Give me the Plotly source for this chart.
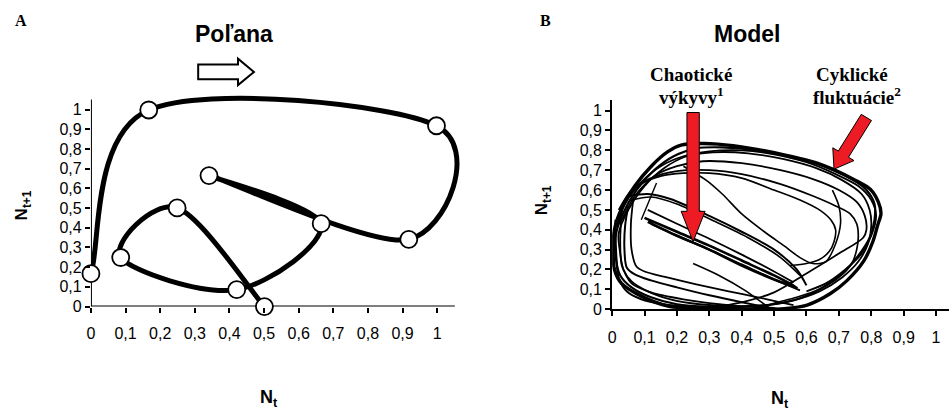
import plotly.graph_objects as go

# ---------------- data ----------------
# Poľana: observed population series (relative abundance), plotted as N_t vs N_t+1
polana_series = [0.0, 0.167, 0.998, 0.918, 0.341, 0.665, 0.421, 0.086, 0.249, 0.501, 0.0]
polana_nt = polana_series[:-1]
polana_nt1 = polana_series[1:]

tick_values = [0, 0.1, 0.2, 0.3, 0.4, 0.5, 0.6, 0.7, 0.8, 0.9, 1.0]
tick_labels = ["0", "0,1", "0,2", "0,3", "0,4", "0,5", "0,6", "0,7", "0,8", "0,9", "1"]

# Model: phase-space trajectory strands (N_t, N_t+1)
model_outer_x = [0.003, 0.008, 0.029, 0.07, 0.121, 0.172, 0.213, 0.274, 0.326, 0.428, 0.531, 0.633,
                 0.684, 0.746, 0.797, 0.822, 0.83, 0.82, 0.805, 0.777, 0.725, 0.674, 0.602, 0.531,
                 0.43, 0.326, 0.223, 0.172, 0.09, 0.029, 0.008, 0.003]
model_outer_y = [0.293, 0.407, 0.506, 0.62, 0.72, 0.793, 0.826, 0.834, 0.831, 0.81, 0.777, 0.736,
                 0.703, 0.653, 0.604, 0.539, 0.481, 0.424, 0.341, 0.243, 0.144, 0.079, 0.021, 0.003,
                 0.0, 0.0, 0.007, 0.016, 0.066, 0.13, 0.195, 0.293]

model_cycle2_x = [0.01, 0.03, 0.075, 0.13, 0.19, 0.26, 0.34, 0.45, 0.56, 0.66, 0.74, 0.785, 0.81, 0.81,
                  0.795, 0.76, 0.71, 0.65, 0.58, 0.5, 0.4, 0.3, 0.2, 0.12, 0.06, 0.025, 0.012, 0.01]
model_cycle2_y = [0.36, 0.47, 0.6, 0.7, 0.77, 0.81, 0.815, 0.8, 0.765, 0.715, 0.655, 0.6, 0.53, 0.45,
                  0.36, 0.27, 0.18, 0.11, 0.055, 0.025, 0.012, 0.012, 0.025, 0.06, 0.11, 0.17, 0.25, 0.36]

model_cycle3_x = [0.02, 0.05, 0.1, 0.16, 0.23, 0.31, 0.42, 0.53, 0.63, 0.71, 0.77, 0.795, 0.8, 0.79,
                  0.76, 0.71, 0.64, 0.56, 0.47, 0.37, 0.27, 0.18, 0.11, 0.06, 0.035, 0.025, 0.02]
model_cycle3_y = [0.38, 0.5, 0.62, 0.71, 0.77, 0.79, 0.785, 0.755, 0.71, 0.65, 0.58, 0.5, 0.42, 0.33,
                  0.24, 0.16, 0.09, 0.045, 0.02, 0.015, 0.025, 0.05, 0.09, 0.14, 0.2, 0.28, 0.38]

model_cycle4_x = [0.03, 0.07, 0.13, 0.2, 0.28, 0.4, 0.52, 0.62, 0.7, 0.755, 0.78, 0.785, 0.775,
                  0.7, 0.6, 0.5, 0.4, 0.3, 0.2]
model_cycle4_y = [0.45, 0.57, 0.67, 0.72, 0.745, 0.735, 0.7, 0.655, 0.6, 0.54, 0.47, 0.4, 0.36,
                  0.28, 0.18, 0.085, 0.035, 0.01, 0.0]

model_cycle5_x = [0.02, 0.06, 0.12, 0.2, 0.3, 0.4, 0.52, 0.62, 0.69, 0.735, 0.755, 0.76, 0.755, 0.74,
                  0.7, 0.64, 0.57, 0.5, 0.44]
model_cycle5_y = [0.5, 0.6, 0.66, 0.695, 0.7, 0.68, 0.63, 0.57, 0.52, 0.48, 0.43, 0.37, 0.3, 0.23,
                  0.16, 0.1, 0.06, 0.03, 0.0]

model_cycle6_x = [0.04, 0.09, 0.15, 0.22, 0.3, 0.4, 0.5, 0.58, 0.64, 0.675, 0.69, 0.685, 0.67, 0.64,
                  0.6, 0.55]
model_cycle6_y = [0.55, 0.63, 0.67, 0.685, 0.685, 0.66, 0.6, 0.55, 0.5, 0.45, 0.4, 0.34, 0.29, 0.25,
                  0.23, 0.22]

model_cycle7_x = [0.015, 0.04, 0.09, 0.15, 0.22, 0.3, 0.4, 0.5, 0.6, 0.69, 0.76, 0.8, 0.815, 0.8,
                  0.77, 0.72, 0.66, 0.6]
model_cycle7_y = [0.42, 0.53, 0.64, 0.72, 0.77, 0.795, 0.8, 0.78, 0.74, 0.68, 0.62, 0.55, 0.47, 0.37,
                  0.28, 0.2, 0.13, 0.09]

model_drop_x = [0.22, 0.29, 0.34, 0.4, 0.47, 0.53, 0.58, 0.62, 0.66, 0.69, 0.705, 0.7, 0.68]
model_drop_y = [0.72, 0.65, 0.58, 0.48, 0.39, 0.32, 0.26, 0.23, 0.24, 0.33, 0.43, 0.52, 0.6]

model_low1_x = [0.05, 0.04, 0.038, 0.045, 0.07, 0.12, 0.2, 0.3, 0.4, 0.48, 0.52]
model_low1_y = [0.52, 0.42, 0.3, 0.21, 0.175, 0.145, 0.11, 0.07, 0.035, 0.01, 0.0]

model_low2_x = [0.065, 0.058, 0.06, 0.075, 0.1, 0.17, 0.26, 0.36, 0.45, 0.52, 0.56]
model_low2_y = [0.55, 0.43, 0.3, 0.215, 0.19, 0.16, 0.125, 0.09, 0.06, 0.035, 0.02]

model_low3_x = [0.01, 0.012, 0.02, 0.045, 0.09, 0.16, 0.25, 0.35, 0.45]
model_low3_y = [0.45, 0.3, 0.16, 0.09, 0.05, 0.025, 0.01, 0.0, 0.0]

model_low4_x = [0.03, 0.025, 0.03, 0.06, 0.12, 0.22, 0.33, 0.44, 0.52]
model_low4_y = [0.5, 0.35, 0.22, 0.13, 0.085, 0.05, 0.025, 0.01, 0.0]

model_diag1_x = [0.1, 0.2, 0.3, 0.4, 0.5, 0.57, 0.5, 0.4, 0.3, 0.2, 0.11]
model_diag1_y = [0.46, 0.39, 0.32, 0.245, 0.17, 0.11, 0.15, 0.22, 0.3, 0.37, 0.44]

model_diag2_x = [0.11, 0.2, 0.3, 0.4, 0.5, 0.56]
model_diag2_y = [0.5, 0.43, 0.355, 0.275, 0.19, 0.135]

model_diag3_x = [0.05, 0.11, 0.18, 0.3, 0.4, 0.5, 0.57, 0.6]
model_diag3_y = [0.57, 0.58, 0.555, 0.47, 0.39, 0.3, 0.2, 0.12]

model_diag4_x = [0.12, 0.2, 0.3, 0.4, 0.5, 0.58]
model_diag4_y = [0.43, 0.37, 0.3, 0.225, 0.15, 0.095]

model_diag5_x = [0.06, 0.12, 0.2, 0.32, 0.42, 0.52, 0.58]
model_diag5_y = [0.55, 0.565, 0.53, 0.44, 0.36, 0.26, 0.17]

model_spike_x = [0.09, 0.137]
model_spike_y = [0.45, 0.635]

model_cross_x = [0.25, 0.33, 0.41, 0.49]
model_cross_y = [0.23, 0.17, 0.095, 0.0]

model_strands = [
    (model_outer_x, model_outer_y, 3.4),
    (model_cycle2_x, model_cycle2_y, 2.2),
    (model_cycle3_x, model_cycle3_y, 1.8),
    (model_cycle7_x, model_cycle7_y, 1.8),
    (model_cycle4_x, model_cycle4_y, 1.8),
    (model_cycle5_x, model_cycle5_y, 1.7),
    (model_cycle6_x, model_cycle6_y, 1.6),
    (model_drop_x, model_drop_y, 1.6),
    (model_low1_x, model_low1_y, 2.0),
    (model_low2_x, model_low2_y, 1.8),
    (model_low3_x, model_low3_y, 2.0),
    (model_low4_x, model_low4_y, 1.8),
    (model_diag1_x, model_diag1_y, 2.6),
    (model_diag2_x, model_diag2_y, 1.8),
    (model_diag3_x, model_diag3_y, 2.0),
    (model_diag4_x, model_diag4_y, 2.0),
    (model_diag5_x, model_diag5_y, 1.6),
    (model_spike_x, model_spike_y, 1.4),
    (model_cross_x, model_cross_y, 1.6),
]

# ---------------- layout geometry ----------------
W, H = 951, 419
LEFT_SCALE_X, LEFT_SCALE_Y = 347.7, 201.3      # px per unit
LEFT_PX_X = (87.3, 478.0)
LEFT_PX_Y = (313.3, 88.0)
LEFT_AXIS_END = 1.051                          # visible axis lines stop here
LEFT_RANGE_X = (0, (LEFT_PX_X[1] - LEFT_PX_X[0]) / LEFT_SCALE_X)
LEFT_RANGE_Y = (0, (LEFT_PX_Y[0] - LEFT_PX_Y[1]) / LEFT_SCALE_Y)
RIGHT_PX_X = (610.7, 949.0)
RIGHT_PX_Y = (316.0, 101.7)
RIGHT_RANGE_X = (0, 1.04)
RIGHT_RANGE_Y = (0, 1.0557)


def px(x):
    return x / W


def py(y):
    return 1 - y / H


def right_to_px(x, y):
    fx = (x - RIGHT_RANGE_X[0]) / (RIGHT_RANGE_X[1] - RIGHT_RANGE_X[0])
    fy = (y - RIGHT_RANGE_Y[0]) / (RIGHT_RANGE_Y[1] - RIGHT_RANGE_Y[0])
    return (RIGHT_PX_X[0] + fx * (RIGHT_PX_X[1] - RIGHT_PX_X[0]),
            RIGHT_PX_Y[0] + fy * (RIGHT_PX_Y[1] - RIGHT_PX_Y[0]))


def poly_path(points):
    parts = [f"{'M' if i == 0 else 'L'} {px(a):.5f},{py(b):.5f}" for i, (a, b) in enumerate(points)]
    return " ".join(parts) + " Z"


def smooth_path(xs, ys):
    """Catmull-Rom (1/6) cubic Bezier path through the points, in data units."""
    pts = list(zip(xs, ys))
    n = len(pts)
    out = [f"M {pts[0][0]},{pts[0][1]}"]
    for i in range(n - 1):
        p0 = pts[i - 1] if i > 0 else pts[i]
        p1, p2 = pts[i], pts[i + 1]
        p3 = pts[i + 2] if i + 2 < n else pts[i + 1]
        c1 = (p1[0] + (p2[0] - p0[0]) / 6, p1[1] + (p2[1] - p0[1]) / 6)
        c2 = (p2[0] - (p3[0] - p1[0]) / 6, p2[1] - (p3[1] - p1[1]) / 6)
        out.append(f"C {c1[0]:.5f},{c1[1]:.5f} {c2[0]:.5f},{c2[1]:.5f} {p2[0]},{p2[1]}")
    return " ".join(out)


def arrow_polygon(tail, tip, shaft_hw, head_hw, head_len):
    (x0, y0), (x1, y1) = tail, tip
    dx, dy = x1 - x0, y1 - y0
    length = (dx * dx + dy * dy) ** 0.5
    ux, uy = dx / length, dy / length
    nx, ny = -uy, ux
    bx, by = x1 - ux * head_len, y1 - uy * head_len
    return [
        (x0 + nx * shaft_hw, y0 + ny * shaft_hw),
        (bx + nx * shaft_hw, by + ny * shaft_hw),
        (bx + nx * head_hw, by + ny * head_hw),
        (x1, y1),
        (bx - nx * head_hw, by - ny * head_hw),
        (bx - nx * shaft_hw, by - ny * shaft_hw),
        (x0 - nx * shaft_hw, y0 - ny * shaft_hw),
    ]


fig = go.Figure()

# Poľana: smoothed trajectory line (drawn under the markers) + open circle nodes
fig.add_shape(type="path", xref="x", yref="y", path=smooth_path(polana_nt, polana_nt1),
              line=dict(color="black", width=5), layer="below")
fig.add_trace(go.Scatter(
    x=polana_nt, y=polana_nt1, mode="markers",
    marker=dict(size=17, color="white", line=dict(color="black", width=1.8)),
    cliponaxis=False, xaxis="x", yaxis="y", showlegend=False, hoverinfo="skip",
))

# Model trajectory strands
for sx, sy, w in model_strands:
    fig.add_trace(go.Scatter(
        x=sx, y=sy, mode="lines",
        line=dict(color="black", width=w, shape="spline", smoothing=0.8),
        cliponaxis=False, xaxis="x2", yaxis="y2", showlegend=False, hoverinfo="skip",
    ))

axis_common = dict(
    linecolor="black", linewidth=2,
    ticks="outside", ticklen=5, tickwidth=2, tickcolor="black",
    showgrid=False, zeroline=False,
    tickvals=tick_values, ticktext=tick_labels,
    tickfont=dict(family="Liberation Sans, Arial", size=16, color="black"),
    fixedrange=True,
)

fig.update_layout(
    width=W, height=H,
    margin=dict(l=0, r=0, t=0, b=0),
    paper_bgcolor="white", plot_bgcolor="white",
    xaxis=dict(domain=[px(LEFT_PX_X[0]), px(LEFT_PX_X[1])], range=list(LEFT_RANGE_X),
               anchor="y", showline=False, ticklabelstandoff=7, **axis_common),
    yaxis=dict(domain=[py(LEFT_PX_Y[0]), py(LEFT_PX_Y[1])], range=list(LEFT_RANGE_Y),
               anchor="x", showline=False, **axis_common),
    xaxis2=dict(domain=[px(RIGHT_PX_X[0]), px(RIGHT_PX_X[1])], range=list(RIGHT_RANGE_X),
                anchor="y2", showline=True, ticklabelstandoff=8, **axis_common),
    yaxis2=dict(domain=[py(RIGHT_PX_Y[0]), py(RIGHT_PX_Y[1])], range=list(RIGHT_RANGE_Y),
                anchor="x2", showline=True, **axis_common),
)

# left axis lines stop at their own ends; the plot area is larger to leave room for the curve
fig.add_shape(type="line", xref="x", yref="y", x0=0, x1=0, y0=0, y1=LEFT_AXIS_END,
              line=dict(color="black", width=2), layer="below")
fig.add_shape(type="line", xref="x", yref="y", x0=0, x1=LEFT_AXIS_END, y0=0, y1=0,
              line=dict(color="black", width=2), layer="below")

sans = "Liberation Sans, Arial"
serif = "Liberation Serif, Times New Roman"


def label(text, x, y, size, family, angle=0):
    fig.add_annotation(text=text, x=px(x), y=py(y), xref="paper", yref="paper",
                       showarrow=False, xanchor="center", yanchor="middle", textangle=angle,
                       font=dict(family=family, size=size, color="black", weight="bold"))


label("A", 17, 21, 16, serif)
label("B", 544, 21, 16, serif)
label("Poľana", 231, 35, 23, sans)
label("Model", 746, 35, 23, sans)
label("Chaotické", 690, 76, 19, serif)
label("výkyvy<sup>1</sup>", 690, 98, 19, serif)
label("Cyklické", 852, 76, 19, serif)
label("fluktuácie<sup>2</sup>", 857, 98, 19, serif)
label("N<sub>t+1</sub>", 20, 210, 17, sans, angle=-90)
label("N<sub>t+1</sub>", 541, 205, 17, sans, angle=-90)
label("N<sub>t</sub>", 266, 407, 18, sans)
label("N<sub>t</sub>", 779, 408, 18, sans)

# hollow direction arrow under the Poľana title
hollow = [(195, 66), (235, 66), (235, 60), (251, 73.5), (235, 87), (235, 81), (195, 81)]
fig.add_shape(type="path", path=poly_path(hollow), xref="paper", yref="paper",
              fillcolor="white", line=dict(color="black", width=2))

# red pointer arrows in the model panel
tip1 = right_to_px(0.25, 0.34)
arrow1 = arrow_polygon((tip1[0], 115), tip1, 6.2, 12, 31)
fig.add_shape(type="path", path=poly_path(arrow1), xref="paper", yref="paper",
              fillcolor="#ED1C24", line=dict(color="black", width=1))

tip2 = right_to_px(0.685, 0.705)
arrow2 = arrow_polygon((866, 120), tip2, 6, 12.5, 18)
fig.add_shape(type="path", path=poly_path(arrow2), xref="paper", yref="paper",
              fillcolor="#ED1C24", line=dict(color="black", width=1))

fig.write_html("out.html")
